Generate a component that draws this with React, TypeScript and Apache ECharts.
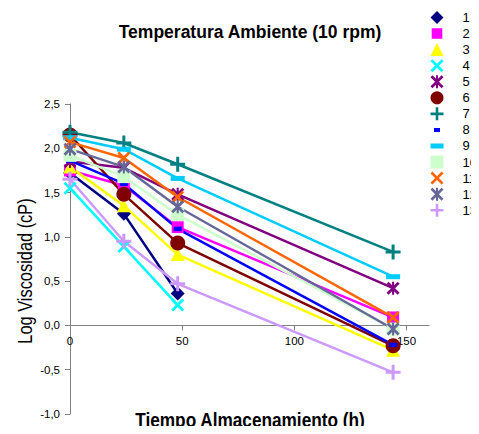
import { useEffect, useRef } from 'react';
import * as echarts from 'echarts';

// ---- data ----
const times = [0, 24, 48, 144];
const seriesNames = ['1', '2', '3', '4', '5', '6', '7', '8', '9', '10', '11', '12', '13'];
const v1 = [1.72, 1.26, 0.36];
const v2 = [1.75, 1.58, 1.11, 0.09];
const v3 = [1.79, 1.35, 0.8, -0.28];
const v4 = [1.55, 0.89, 0.23];
const v5 = [1.85, 1.78, 1.48, 0.42];
const v6 = [2.15, 1.48, 0.93, -0.23];
const v7 = [2.18, 2.06, 1.82, 0.83];
const v8 = [1.86, 1.6, 1.09, -0.22];
const v9 = [2.12, 1.99, 1.66, 0.55];
const v10 = [1.92, 1.68, 1.25, -0.04];
const v11 = [2.07, 1.89, 1.45, 0.09];
const v12 = [1.99, 1.79, 1.34, -0.04];
const v13 = [1.65, 0.95, 0.47, -0.53];
const seriesValues = [v1, v2, v3, v4, v5, v6, v7, v8, v9, v10, v11, v12, v13];
const xTicks = [0, 50, 100, 150];
const xMin = 0;
const xMax = 160;
const yMin = -1;
const yMax = 2.5;
const yStep = 0.5;

const title = 'Temperatura Ambiente (10 rpm)';
const xTitle = 'Tiempo Almacenamiento (h)';
const yTitle = 'Log Viscosidad (cP)';

// ---- styles / layout ----
const FONT = '"Liberation Sans", Arial, Helvetica, sans-serif';
const GRID = { left: 70, right: 50, top: 104, bottom: 20 };
const CHART_H = 434;
const colors = ['#000080', '#FF00FF', '#FFFF00', '#00FFFF', '#800080', '#800000', '#008080', '#0000FF', '#00CCFF', '#CCFFCC', '#FF6600', '#666699', '#CC99FF'];

const X_PATH = 'M0,1.5 L1.5,0 L5,3.5 L8.5,0 L10,1.5 L6.5,5 L10,8.5 L8.5,10 L5,6.5 L1.5,10 L0,8.5 L3.5,5 Z';
const ASTER_PATH = X_PATH + ' M4.2,0 L5.8,0 L5.8,10 L4.2,10 Z';
const PLUS_PATH = 'M4,0 L6,0 L6,4 L10,4 L10,6 L6,6 L6,10 L4,10 L4,6 L0,6 L0,4 L4,4 Z';
const BOX_A = 'M0,0 L0.01,0 L0,0.01 Z ';
const BOX_B = ' M13,13 L12.99,13 L13,12.99 Z';

const symbols = ['diamond', 'rect', 'triangle', 'path://' + X_PATH, 'path://' + ASTER_PATH, 'circle', 'path://' + PLUS_PATH, 'rect', 'rect', 'rect', 'path://' + X_PATH, 'path://' + ASTER_PATH, 'path://' + PLUS_PATH];
const symbolSizes: any[] = [14, 12, [14, 13], 13, 13, 15, 15, [8, 4.5], [14, 5], 13, 13, 13, 15];
const legendIcons = [
  'diamond',
  'path://' + BOX_A + 'M1.2,1.2 L11.8,1.2 L11.8,11.8 L1.2,11.8 Z' + BOX_B,
  'triangle',
  'path://' + X_PATH,
  'path://' + ASTER_PATH,
  'circle',
  'path://' + PLUS_PATH,
  'path://' + BOX_A + 'M3.5,4.5 L9.5,4.5 L9.5,8.5 L3.5,8.5 Z' + BOX_B,
  'path://' + BOX_A + 'M0,4 L13,4 L13,9 L0,9 Z' + BOX_B,
  'rect',
  'path://' + X_PATH,
  'path://' + ASTER_PATH,
  'path://' + PLUS_PATH,
];

const fmt = (v: number) => v.toFixed(1).replace('.', ',');

export default function App() {
  const ref = useRef<HTMLDivElement>(null);
  useEffect(() => {
    if (!ref.current) return;
    const chart = echarts.init(ref.current, null, { renderer: 'svg' });
    const plotH = CHART_H - GRID.top - GRID.bottom;
    const zeroOffset = -plotH * (0 - yMin) / (yMax - yMin);
    const series = seriesValues.map((vals, i) => ({
      name: seriesNames[i],
      type: 'line',
      data: vals.map((v, j) => [times[j], v]),
      symbol: symbols[i],
      symbolSize: symbolSizes[i],
      showSymbol: true,
      showAllSymbol: true,
      color: colors[i],
      lineStyle: { color: colors[i], width: 2.5 },
      itemStyle: { color: colors[i], borderWidth: 0 },
      emphasis: { disabled: true },
      clip: false,
    }));
    chart.setOption({
      animation: false,
      grid: { ...GRID, containLabel: false, outerBoundsMode: 'none' },
      xAxis: {
        type: 'value',
        min: xMin,
        max: xMax,
        position: 'bottom',
        offset: zeroOffset,
        splitLine: { show: false },
        axisLine: { show: true, onZero: false, lineStyle: { color: '#808080', width: 1 } },
        axisTick: { show: true, length: 5, customValues: xTicks, lineStyle: { color: '#808080' } },
        axisLabel: { customValues: xTicks, margin: 10, color: '#000', fontSize: 11.5, fontFamily: FONT },
      },
      yAxis: {
        type: 'value',
        min: yMin,
        max: yMax,
        interval: yStep,
        splitLine: { show: false },
        axisLine: { show: true, onZero: false, lineStyle: { color: '#808080', width: 1 } },
        axisTick: { show: true, length: 5, lineStyle: { color: '#808080' } },
        axisLabel: { margin: 10, color: '#000', fontSize: 11.5, fontFamily: FONT, formatter: fmt },
      },
      legend: {
        orient: 'vertical',
        left: 430.5,
        top: 11,
        padding: 0,
        itemWidth: 13,
        itemHeight: 13,
        itemGap: 3.06,
        selectedMode: false,
        textStyle: { fontSize: 13, fontFamily: FONT, color: '#000', padding: [0, 0, 0, 14] },
        data: seriesNames.map((n, i) => ({ name: n, icon: legendIcons[i] })),
      },
      graphic: [
        {
          type: 'text', x: 250, y: 32,
          style: { text: title, font: 'bold 17.5px ' + FONT, fill: '#000', align: 'center', verticalAlign: 'middle' },
        },
        {
          type: 'text', x: 250, y: 420, scaleX: 0.82,
          style: { text: xTitle, font: 'bold 21px ' + FONT, fill: '#000', align: 'center', verticalAlign: 'middle' },
        },
        {
          type: 'text', x: 25, y: 271, rotation: Math.PI / 2, scaleX: 0.82,
          style: { text: yTitle, font: '20px ' + FONT, fill: '#000', align: 'center', verticalAlign: 'middle' },
        },
      ],
      series,
    } as any);
    return () => chart.dispose();
  }, []);
  return <div ref={ref} style={{ width: 479, height: 434, margin: -8 }} />;
}
